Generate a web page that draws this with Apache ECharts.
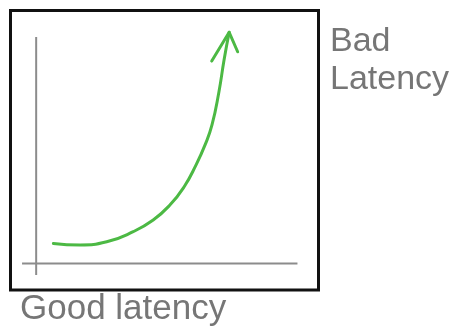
<!DOCTYPE html>
<html>
<head>
<meta charset="utf-8">
<script src="https://cdn.jsdelivr.net/npm/echarts@6/dist/echarts.min.js"></script>
<style>
html,body{margin:0;padding:0;background:#fff;}
#chart{width:459px;height:333px;}
</style>
</head>
<body>
<div id="chart"></div>
<script>
// Sketch data (abstract units: x = load, y = latency)
const curveX = [6.7, 17.1, 27.5, 37.8, 45.6, 52.1, 57.6, 62.3, 65.8, 68.5, 71.2, 73.2, 75.2];
const curveY = [7.5, 6.9, 8.1, 11.9, 16.3, 21.9, 28.7, 37.0, 44.5, 52.0, 64.4, 76.4, 86.8];
const arrowX = [68.4, 75.2, 78.5];
const arrowY = [76.0, 86.8, 79.5];
const vAxisX = [0, 0];
const vAxisY = [-4.4, 85.0];
const hAxisX = [-5.5, 101.8];
const hAxisY = [0, 0];
const labelBad = ['Bad', 'Latency'];
const labelGood = 'Good latency';

const zip = (a, b) => a.map((v, i) => [v, b[i]]);

const chart = echarts.init(document.getElementById('chart'), null, {renderer: 'canvas'});
const txtStyle = {fontFamily: 'Liberation Sans, Arial, sans-serif', fontSize: 34, fill: '#767676'};
chart.setOption({
  animation: false,
  grid: {left: 10.5, top: 10.5, right: 140.5, bottom: 43, show: true,
         borderColor: '#111', borderWidth: 3, backgroundColor: '#fff'},
  xAxis: {type: 'value', min: -10, max: 110, show: false},
  yAxis: {type: 'value', min: -10, max: 95, show: false},
  series: [
    {type: 'line', data: zip(vAxisX, vAxisY), symbol: 'none', lineStyle: {color: '#8c8c8c', width: 2}},
    {type: 'line', data: zip(hAxisX, hAxisY), symbol: 'none', lineStyle: {color: '#8c8c8c', width: 2}},
    {type: 'line', data: zip(curveX, curveY), symbol: 'none', smooth: 0.5,
     lineStyle: {color: '#4cb944', width: 3, cap: 'round'}},
    {type: 'line', data: zip(arrowX, arrowY), symbol: 'none',
     lineStyle: {color: '#4cb944', width: 3, cap: 'round', join: 'round'}}
  ],
  graphic: [
    {type: 'text', left: 330, top: 25, style: Object.assign({text: labelBad[0]}, txtStyle)},
    {type: 'text', left: 330, top: 63, style: Object.assign({text: labelBad[1]}, txtStyle)},
    {type: 'text', left: 20, top: 292, style: Object.assign({text: labelGood}, txtStyle, {fontSize: 35})}
  ]
});
</script>
</body>
</html>
